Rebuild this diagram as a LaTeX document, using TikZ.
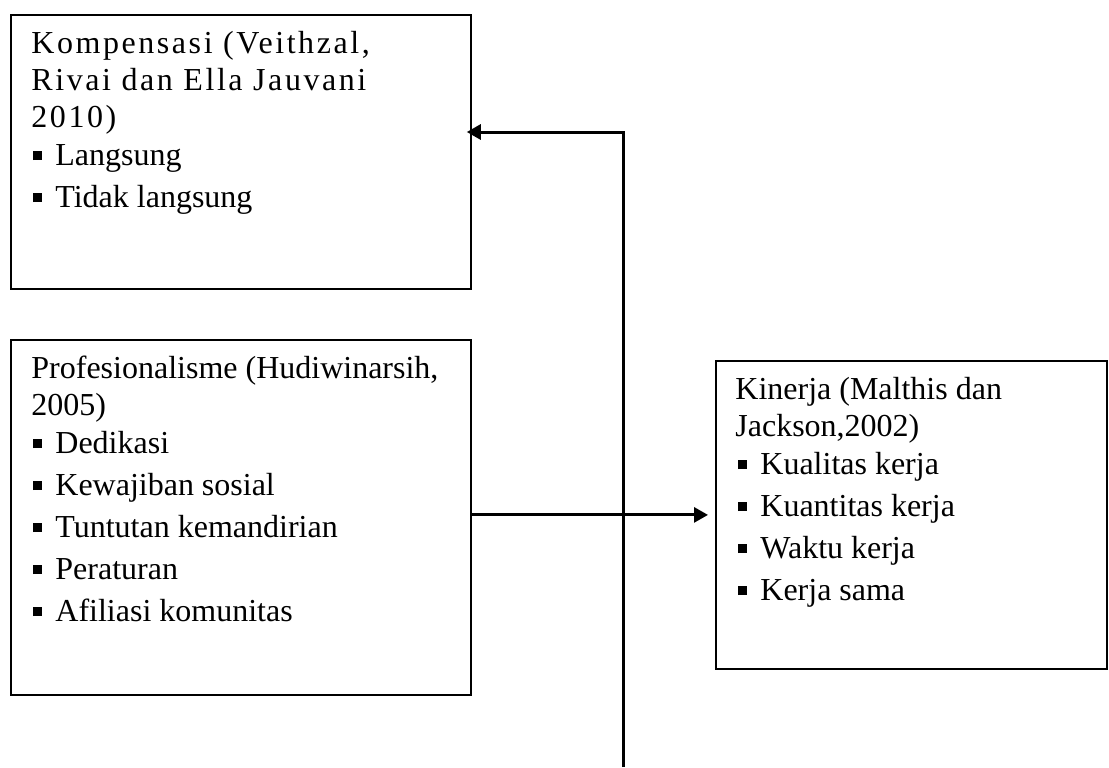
\documentclass[tikz,border=0pt]{standalone}
\usepackage{fontspec}
\setmainfont{Liberation Serif}
\usetikzlibrary{arrows.meta}
\newcommand{\sqbul}{\rule[2.5pt]{4.5pt}{4.5pt}\hspace{6.5pt}}
\begin{document}
\begin{tikzpicture}[x=0.5pt, y=-0.5pt,
    box/.style={draw=black, line width=0.9pt, inner sep=0pt, anchor=north west},
    txt/.style={black, anchor=base west, inner sep=0pt, font=\fontsize{16pt}{18pt}\selectfont},
    conn/.style={draw=black, line width=1.5pt, -{Triangle[length=7pt, width=7.5pt]}}]
    \useasboundingbox (0,0) rectangle (1109,767);
    \node[box, minimum width=230pt, minimum height=137pt] (kompensasi) at (10,14) {};
    \node[box, minimum width=230pt, minimum height=177.5pt] (profesionalisme) at (10,339) {};
    \node[box, minimum width=195.5pt, minimum height=154pt] (kinerja) at (715,360) {};
    \node[txt] (k1) at (31,53) {\addfontfeature{LetterSpace=8}Kompensasi (Veithzal,};
    \node[txt] (k2) at (31,90) {\addfontfeature{LetterSpace=8}Rivai dan Ella Jauvani};
    \node[txt] (k3) at (31,127) {\addfontfeature{LetterSpace=8}2010)};
    \node[txt] (k4) at (33,165) {\sqbul Langsung};
    \node[txt] (k5) at (33,207) {\sqbul Tidak langsung};
    \node[txt] (p1) at (31,378) {Profesionalisme (Hudiwinarsih,};
    \node[txt] (p2) at (31,415) {2005)};
    \node[txt] (p3) at (33,453) {\sqbul Dedikasi};
    \node[txt] (p4) at (33,495) {\sqbul Kewajiban sosial};
    \node[txt] (p5) at (33,537) {\sqbul Tuntutan kemandirian};
    \node[txt] (p6) at (33,579) {\sqbul Peraturan};
    \node[txt] (p7) at (33,621) {\sqbul Afiliasi komunitas};
    \node[txt] (j1) at (735,399) {Kinerja (Malthis dan};
    \node[txt] (j2) at (735,436) {Jackson,2002)};
    \node[txt] (j3) at (738,474) {\sqbul Kualitas kerja};
    \node[txt] (j4) at (738,516) {\sqbul Kuantitas kerja};
    \node[txt] (j5) at (738,558) {\sqbul Waktu kerja};
    \node[txt] (j6) at (738,600) {\sqbul Kerja sama};
    \coordinate (bend) at (623,132);
    \coordinate (foot) at (623,767);
    \draw[conn, shorten >=-2.5pt] (foot) -- (bend) -- (kompensasi.east |- bend);
    \draw[conn, shorten >=3.5pt] (profesionalisme.east |- kinerja.west) -- (kinerja.west);
\end{tikzpicture}
\end{document}
